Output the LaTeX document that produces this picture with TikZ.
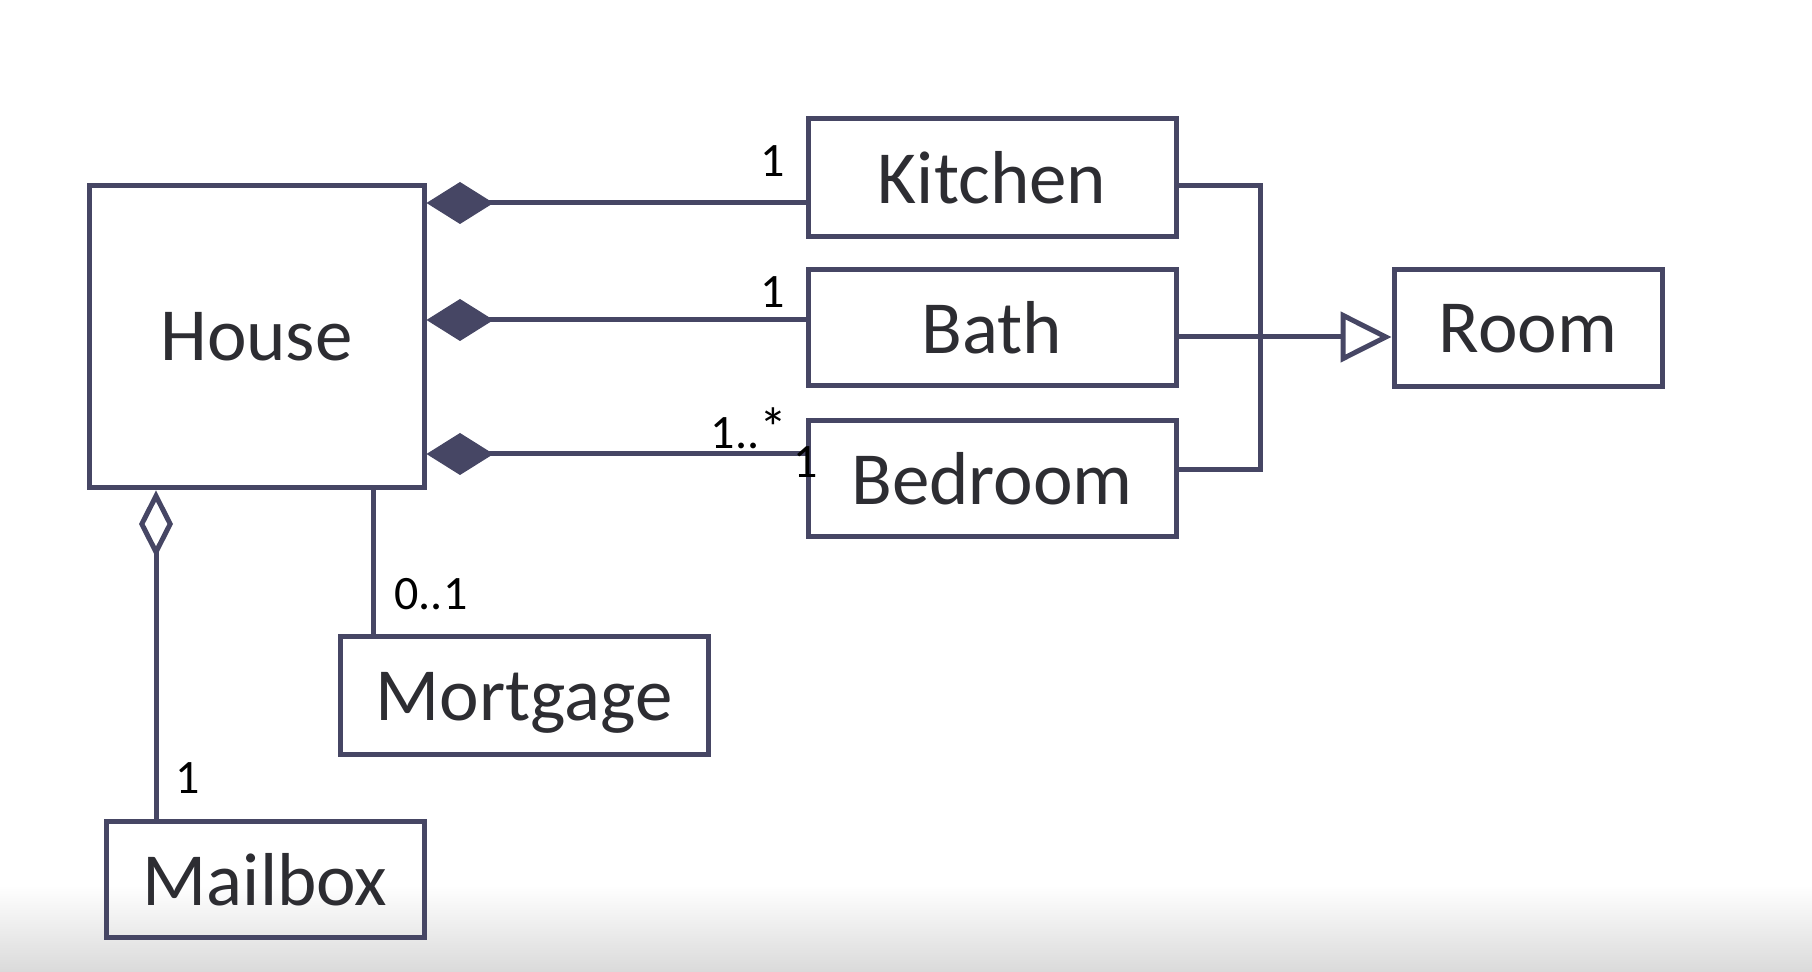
\documentclass[tikz,border=0pt]{standalone}
\usepackage{fontspec}
\setmainfont{Carlito}
\usetikzlibrary{arrows.meta}
\definecolor{umlline}{RGB}{70,70,100}
\definecolor{umltext}{RGB}{45,45,50}
\definecolor{bottomgray}{RGB}{218,218,218}
\begin{document}
\begin{tikzpicture}[x=0.5pt,y=-0.5pt,
  cls/.style={draw=umlline, line width=2.5pt, rectangle, inner sep=0pt, font=\fontsize{37.5}{40}\selectfont, text=umltext},
  conn/.style={draw=umlline, line width=2.5pt},
  comp/.style={conn, {Diamond[length=33.5pt,width=21pt,fill=umlline]}-},
  aggr/.style={conn, {Diamond[open,length=33.5pt,width=17pt,fill=white]}-},
  gen/.style={conn, -{Triangle[open,length=25.5pt,width=25pt,fill=white]}},
  mult/.style={font=\fontsize{24}{26}\selectfont, text=black, inner sep=0pt}
]
\useasboundingbox (0,0) rectangle (1812,972);
\fill[white] (0,0) rectangle (1812,972);
\shade[top color=white, bottom color=bottomgray] (0,885) rectangle (1812,972);

\node[cls, minimum width=167.5pt, minimum height=151pt] (house) at (256.5,337) {House};
\node[cls, minimum width=184pt, minimum height=59pt] (kitchen) at (992,178) {Kitchen};
\node[cls, minimum width=184pt, minimum height=58pt] (bath) at (992,328) {Bath};
\node[cls, minimum width=184pt, minimum height=58pt] (bedroom) at (992,479) {Bedroom};
\node[cls, minimum width=134pt, minimum height=58.5pt] (room) at (1528,328.5) {Room};
\node[cls, minimum width=184pt, minimum height=59pt] (mortgage) at (524,696) {\raisebox{-3.5pt}[\height][\depth]{Mortgage}};
\node[cls, minimum width=159pt, minimum height=58pt] (mailbox) at (265,880) {Mailbox};

\coordinate (yk) at (0,203);
\coordinate (yb) at (0,320);
\coordinate (yd) at (0,454);
\coordinate (xm) at (373,0);
\coordinate (xa) at (156,0);
\coordinate (yg1) at (0,186);
\coordinate (yg2) at (0,337);
\coordinate (jn) at (1260,470);

\draw[comp] (house.east |- yk) -- (kitchen.west |- yk);
\draw[comp] (house.east |- yb) -- (bath.west |- yb);
\draw[comp] (house.east |- yd) -- (bedroom.west |- yd);
\draw[conn] (house.south -| xm) -- (mortgage.north -| xm);
\draw[aggr] (house.south -| xa) -- (mailbox.north -| xa);

\draw[conn] (kitchen.east |- yg1) -| (jn) -- (bedroom.east |- jn);
\draw[gen] (bath.east |- yg2) -- (room.west |- yg2);

\node[mult] (mk) at (773,161) {1};
\node[mult] (mb) at (773,292) {1};
\node[mult] (md) at (749,428) {1..\raisebox{0.5pt}{\fontsize{28}{28}\selectfont *}};
\node[mult] (md2) at (806,462) {1};
\node[mult] (mm) at (431,594) {0..1};
\node[mult] (ma) at (188,778) {1};
\end{tikzpicture}
\end{document}
